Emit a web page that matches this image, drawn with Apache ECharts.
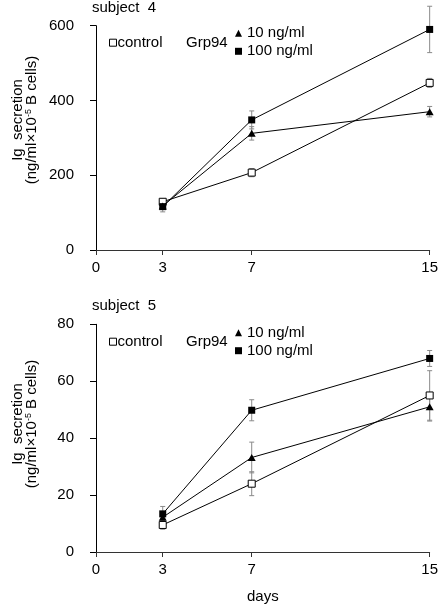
<!DOCTYPE html>
<html>
<head>
<meta charset="utf-8">
<script src="https://cdn.jsdelivr.net/npm/echarts@6/dist/echarts.min.js"></script>
<style>
html,body{margin:0;padding:0;background:#fff;}
#chart{width:441px;height:605px;}
</style>
</head>
<body>
<div id="chart"></div>
<script>
// ---- data ----
var days = [3, 7, 15];
var xTicks = [0, 3, 7, 15];
var seriesNames = ['control', '10 ng/ml', '100 ng/ml'];

var s4Control = [129, 207, 447];
var s4ControlErr = [8, 11, 12];
var s4G10 = [118, 312, 370];
var s4G10Err = [6, 18, 14];
var s4G100 = [116, 348, 590];
var s4G100Err = [14, 24, 62];

var s5Control = [9.5, 24, 55];
var s5ControlErr = [1.5, 4.2, 8.7];
var s5G10 = [12.2, 33.2, 51];
var s5G10Err = [1.5, 5.4, 5];
var s5G100 = [13.4, 49.8, 68];
var s5G100Err = [2.6, 3.7, 2.8];

var s4Ticks = {min: 0, max: 600, interval: 200};
var s5Ticks = {min: 0, max: 80, interval: 20};

// ---- chart ----
var FONT = 'Liberation Sans, Arial, sans-serif';
var chart = echarts.init(document.getElementById('chart'), null, {renderer: 'canvas'});

function pts(vals) { return days.map(function (d, i) { return [d, vals[i]]; }); }
function errPts(vals, errs) { return days.map(function (d, i) { return [d, vals[i] - errs[i], vals[i] + errs[i]]; }); }

function errRender(params, api) {
  var x = api.value(0), lo = api.value(1), hi = api.value(2);
  var p1 = api.coord([x, hi]), p2 = api.coord([x, lo]);
  var w = 2.5;
  var st = {stroke: '#8a8a8a', lineWidth: 1};
  return {type: 'group', children: [
    {type: 'line', shape: {x1: p1[0], y1: p1[1], x2: p2[0], y2: p2[1]}, style: st},
    {type: 'line', shape: {x1: p1[0] - w, y1: p1[1], x2: p1[0] + w, y2: p1[1]}, style: st},
    {type: 'line', shape: {x1: p2[0] - w, y1: p2[1], x2: p2[0] + w, y2: p2[1]}, style: st}
  ]};
}

var styles = {
  'control': {symbol: 'rect', symbolSize: 7, itemStyle: {color: '#fff', borderColor: '#000', borderWidth: 1}},
  '10 ng/ml': {symbol: 'triangle', symbolSize: [8, 7], itemStyle: {color: '#000', borderColor: '#000', borderWidth: 0}},
  '100 ng/ml': {symbol: 'rect', symbolSize: 7, itemStyle: {color: '#000', borderColor: '#000', borderWidth: 0}}
};

function makeSeries(idx, valsList, errList) {
  var out = [];
  seriesNames.forEach(function (n, k) {
    out.push({
      type: 'custom', name: n + ' err', xAxisIndex: idx, yAxisIndex: idx,
      renderItem: errRender, data: errPts(valsList[k], errList[k]),
      encode: {x: 0, y: [1, 2]}, z: 1, silent: true
    });
  });
  seriesNames.forEach(function (n, k) {
    var s = styles[n];
    out.push({
      type: 'line', name: n, xAxisIndex: idx, yAxisIndex: idx,
      data: pts(valsList[k]), symbol: s.symbol, symbolSize: s.symbolSize,
      itemStyle: s.itemStyle, lineStyle: {color: '#000', width: 1},
      z: 2 + k, showSymbol: true
    });
  });
  return out;
}

function xAxisCfg(idx, withName) {
  var a = {
    type: 'value', gridIndex: idx, min: 0, max: 15,
    axisLine: {show: true, lineStyle: {color: '#333', width: 1}},
    axisTick: {show: true, length: 5, customValues: xTicks, lineStyle: {color: '#333'}},
    axisLabel: {customValues: xTicks, margin: 10, fontSize: 15, color: '#000', fontFamily: FONT},
    splitLine: {show: false}
  };
  if (withName) {
    a.name = 'days'; a.nameLocation = 'middle'; a.nameGap = 37;
    a.nameTextStyle = {fontSize: 15, color: '#000', fontFamily: FONT};
  }
  return a;
}
function yAxisCfg(idx, t) {
  return {
    type: 'value', gridIndex: idx, min: t.min, max: t.max, interval: t.interval,
    offset: 9,
    axisLine: {show: true, lineStyle: {color: '#000', width: 1}},
    axisTick: {show: true, length: 6, lineStyle: {color: '#000'}},
    axisLabel: {margin: 13, fontSize: 15, color: '#000', fontFamily: FONT},
    splitLine: {show: false}
  };
}

function legendsFor(topCtrl, topVert) {
  return [
    {left: 109, top: topCtrl, padding: 0, itemWidth: 7, itemHeight: 7, selectedMode: false,
     textStyle: {fontSize: 15, color: '#000', fontFamily: FONT, lineHeight: 16, padding: [0, 0, 0, -4]},
     data: [{name: 'control', icon: 'rect', itemStyle: {color: '#fff', borderColor: '#000', borderWidth: 1}}]},
    {left: 235, top: topVert, padding: 0, orient: 'vertical', itemGap: 2, itemWidth: 7, itemHeight: 7, selectedMode: false,
     textStyle: {fontSize: 15, color: '#000', fontFamily: FONT, lineHeight: 16},
     data: [
       {name: '10 ng/ml', icon: 'triangle', itemStyle: {color: '#000', borderWidth: 0}},
       {name: '100 ng/ml', icon: 'rect', itemStyle: {color: '#000', borderWidth: 0}}
     ]}
  ];
}

function yName(x, y) {
  return [
    {type: 'text', x: x, y: y, rotation: Math.PI / 2, silent: true,
     style: {text: 'Ig  secretion', font: '15px ' + FONT, fill: '#000', align: 'center', verticalAlign: 'middle'}},
    {type: 'text', x: x + 14, y: y, rotation: Math.PI / 2, silent: true,
     style: {text: '{a|(ng/ml×10}{s|-5}{a| B cells)}', fill: '#000', align: 'center', verticalAlign: 'middle',
       rich: {a: {fontSize: 15, fontFamily: FONT, lineHeight: 16}, s: {fontSize: 9, fontFamily: FONT, lineHeight: 9, verticalAlign: 'top'}}}}
  ];
}

var option = {
  animation: false,
  backgroundColor: '#fff',
  title: [
    {text: 'subject  4', left: 92, top: 0, padding: 0, textStyle: {fontSize: 15, fontWeight: 'normal', color: '#000', fontFamily: FONT}},
    {text: 'subject  5', left: 92, top: 298, padding: 0, textStyle: {fontSize: 15, fontWeight: 'normal', color: '#000', fontFamily: FONT}}
  ],
  grid: [
    {left: 96, right: 9, top: 25.7, height: 224.3},
    {left: 96, right: 8.5, top: 324.3, height: 229}
  ],
  xAxis: [xAxisCfg(0, false), xAxisCfg(1, true)],
  yAxis: [yAxisCfg(0, s4Ticks), yAxisCfg(1, s5Ticks)],
  legend: legendsFor(34.7, 25.3).concat(legendsFor(333.7, 324.7)),
  graphic: [
    {type: 'text', x: 186, y: 42.7, silent: true, style: {text: 'Grp94', font: '15px ' + FONT, fill: '#000', verticalAlign: 'middle'}},
    {type: 'text', x: 186, y: 341.7, silent: true, style: {text: 'Grp94', font: '15px ' + FONT, fill: '#000', verticalAlign: 'middle'}}
  ].concat(yName(18, 120)).concat(yName(18, 424)),
  series: makeSeries(0, [s4Control, s4G10, s4G100], [s4ControlErr, s4G10Err, s4G100Err])
    .concat(makeSeries(1, [s5Control, s5G10, s5G100], [s5ControlErr, s5G10Err, s5G100Err]))
};
chart.setOption(option);
</script>
</body>
</html>
